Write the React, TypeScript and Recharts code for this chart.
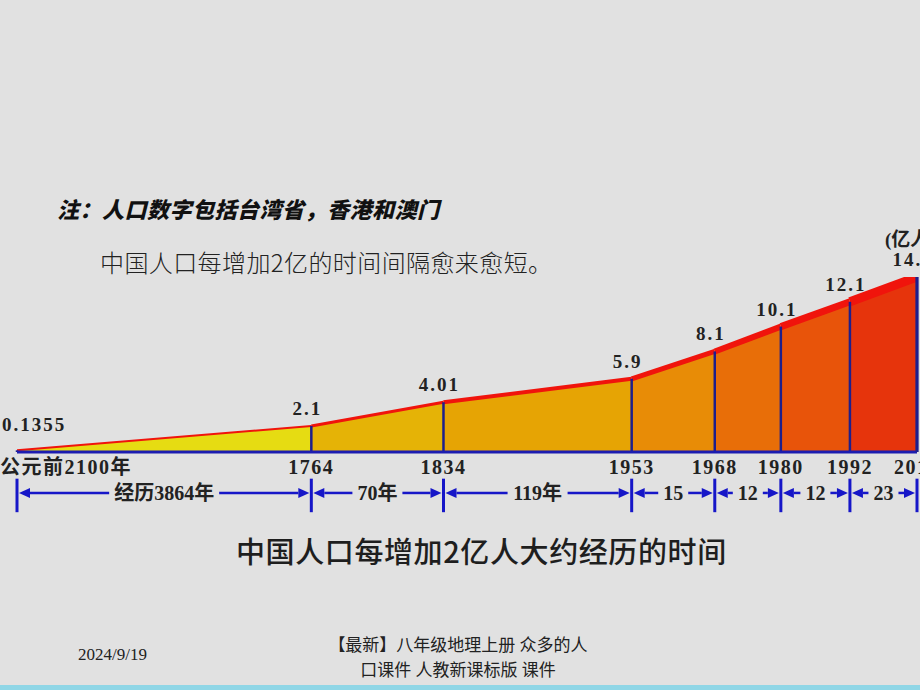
import React from 'react';
import { ComposedChart, Area, Line, XAxis, YAxis, ReferenceLine, LabelList } from 'recharts';

const years = ['公元前2100年', '1764', '1834', '1953', '1968', '1980', '1992', '2015'];
const population = [0.1355, 2.1, 4.01, 5.9, 8.1, 10.1, 12.1, 14.1];
const valueLabels = ['0.1355', '2.1', '4.01', '5.9', '8.1', '10.1', '12.1', '14.1'];
const axisSlots = [0, 294, 426, 614, 697, 763, 832, 899];
const intervalLabels = ['经历3864年', '70年', '119年', '15', '12', '12', '23'];
const segmentColors = ['#e6dc12', '#e5b306', '#e6a404', '#e88c06', '#e86e08', '#e8540a', '#e6340c'];
const segmentStrokeWidths = [2, 3, 4, 5, 6, 7, 9];
const yTicks = [2, 4, 6, 8, 10, 12, 14];

const RED = '#f0140c';
const NAVY = '#1e1e8c';
const BLUE = '#1616c8';
const SERIF = "'Liberation Serif', 'Noto Sans CJK SC', serif";
const SANS = "'Noto Sans CJK SC', 'Noto Sans', sans-serif";

const data = years.map((year, i) => {
  const row: Record<string, any> = { pos: axisSlots[i], year, pop: population[i], label: valueLabels[i] };
  for (let s = 0; s < intervalLabels.length; s++) {
    row[`s${s}`] = i === s || i === s + 1 ? population[i] : null;
  }
  return row;
});

const ARROW_ROW = -3.3;
const TICK_TOP = -2.15;
const TICK_BOTTOM = -4.85;

function estimateWidth(text: string, size: number) {
  let w = 0;
  for (const ch of text) w += /[\u4e00-\u9fff]/.test(ch) ? size : size * 0.5;
  return w;
}

const YearTick = (props: any) => {
  const { x, y, payload } = props;
  const idx = axisSlots.indexOf(payload.value);
  const first = idx === 0;
  return (
    <text
      x={first ? x - 17 : x}
      y={y}
      dy="0.72em"
      textAnchor={first ? 'start' : 'middle'}
      fontFamily={SERIF}
      fontWeight="bold"
      fontSize={20}
      letterSpacing={1.5}
      fill="#222"
    >
      {years[idx]}
    </text>
  );
};

const ValueLabel = (props: any) => {
  const { x, y, value, index } = props;
  const first = index === 0;
  return (
    <text
      x={first ? x - 15 : x - 4}
      y={first ? y - 19 : y - 11}
      textAnchor={first ? 'start' : 'middle'}
      fontFamily={SERIF}
      fontWeight="bold"
      fontSize={19}
      letterSpacing={2}
      fill="#222"
    >
      {value}
    </text>
  );
};

const UnitLabel = (props: any) => {
  const vb = props.viewBox || { x: 916, y: 277 };
  return (
    <text x={vb.x - 32} y={vb.y - 31} fontFamily={SERIF} fontWeight="bold" fontSize={19} fill="#222">
      (亿人)
    </text>
  );
};

const IntervalArrow = (props: any) => {
  const { x1, x2, y1, text } = props;
  const left = Math.min(x1, x2) + 2;
  const right = Math.max(x1, x2) - 2;
  const y = y1;
  const cx = (left + right) / 2;
  const tw = estimateWidth(text, 20);
  const head = 11;
  const half = 5;
  return (
    <g>
      <polygon points={`${left},${y} ${left + head},${y - half} ${left + head},${y + half}`} fill={BLUE} />
      <line x1={left + head} y1={y} x2={cx - tw / 2 - 5} y2={y} stroke={BLUE} strokeWidth={2.5} />
      <text x={cx} y={y} dy="0.36em" textAnchor="middle" fontFamily={SERIF} fontWeight="bold" fontSize={20} fill="#222">
        {text}
      </text>
      <line x1={cx + tw / 2 + 5} y1={y} x2={right - head} y2={y} stroke={BLUE} strokeWidth={2.5} />
      <polygon points={`${right},${y} ${right - head},${y - half} ${right - head},${y + half}`} fill={BLUE} />
    </g>
  );
};

export default function App() {
  return (
    <div
      style={{
        position: 'fixed',
        left: 0,
        top: 0,
        width: 920,
        height: 690,
        overflow: 'hidden',
        background: '#e1e1e1',
      }}
    >
      <div
        style={{
          position: 'absolute',
          left: 57,
          top: 196,
          fontFamily: SANS,
          fontSize: 22,
          lineHeight: '24px',
          fontWeight: 900,
          fontStyle: 'italic',
          letterSpacing: 0.5,
          color: '#111',
          whiteSpace: 'nowrap',
        }}
      >
        注：人口数字包括台湾省，香港和澳门
      </div>
      <div
        style={{
          position: 'absolute',
          left: 100,
          top: 249,
          fontFamily: SANS,
          fontSize: 24,
          lineHeight: '26px',
          fontWeight: 300,
          letterSpacing: 0.4,
          color: '#222',
          whiteSpace: 'nowrap',
        }}
      >
        中国人口每增加2亿的时间间隔愈来愈短。
      </div>

      <div style={{ position: 'absolute', left: 0, top: 0 }}>
        <ComposedChart width={976} height={530} data={data} margin={{ top: 277, right: 0, left: 17, bottom: 48 }}>
          <XAxis
            type="number"
            dataKey="pos"
            domain={[0, 899]}
            ticks={axisSlots}
            interval={0}
            allowDataOverflow
            axisLine={{ stroke: '#1c1cb0', strokeWidth: 3 }}
            tickLine={false}
            tickSize={6}
            tickMargin={2}
            height={30}
            tick={<YearTick />}
          />
          <YAxis
            orientation="right"
            domain={[0, 14.1]}
            ticks={yTicks}
            width={59}
            allowDataOverflow
            axisLine={{ stroke: NAVY, strokeWidth: 3 }}
            tickLine={{ stroke: NAVY, strokeWidth: 2 }}
            tickSize={5}
            tick={false}
            label={<UnitLabel />}
          />
          {intervalLabels.map((_, s) => (
            <Area
              key={`area-${s}`}
              type="linear"
              dataKey={`s${s}`}
              fill={segmentColors[s]}
              fillOpacity={1}
              stroke={RED}
              strokeWidth={segmentStrokeWidths[s]}
              connectNulls={false}
              dot={false}
              activeDot={false}
              isAnimationActive={false}
            />
          ))}
          {axisSlots.map((p, i) => (
            <ReferenceLine
              key={`up-${i}`}
              segment={[
                { x: p, y: 0 },
                { x: p, y: population[i] },
              ]}
              stroke={NAVY}
              strokeWidth={2.5}
              ifOverflow="visible"
            />
          ))}
          {axisSlots.map((p, i) => (
            <ReferenceLine
              key={`down-${i}`}
              segment={[
                { x: p, y: TICK_TOP },
                { x: p, y: TICK_BOTTOM },
              ]}
              stroke={BLUE}
              strokeWidth={3}
              ifOverflow="visible"
            />
          ))}
          {intervalLabels.map((txt, s) => (
            <ReferenceLine
              key={`int-${s}`}
              segment={[
                { x: axisSlots[s], y: ARROW_ROW },
                { x: axisSlots[s + 1], y: ARROW_ROW },
              ]}
              ifOverflow="visible"
              shape={(p: any) => <IntervalArrow {...p} text={txt} />}
            />
          ))}
          <Line dataKey="pop" stroke="none" dot={false} activeDot={false} isAnimationActive={false}>
            <LabelList dataKey="label" content={<ValueLabel />} />
          </Line>
        </ComposedChart>
      </div>

      <div
        style={{
          position: 'absolute',
          left: 236,
          top: 533,
          fontFamily: SANS,
          fontSize: 29,
          lineHeight: '34px',
          fontWeight: 500,
          letterSpacing: 0.6,
          color: '#1e1e1e',
          whiteSpace: 'nowrap',
        }}
      >
        中国人口每增加2亿人大约经历的时间
      </div>

      <div
        style={{
          position: 'absolute',
          left: 78,
          top: 644,
          fontFamily: SERIF,
          fontSize: 17,
          lineHeight: '22px',
          color: '#222',
          whiteSpace: 'nowrap',
        }}
      >
        2024/9/19
      </div>
      <div
        style={{
          position: 'absolute',
          left: 298,
          top: 633,
          width: 320,
          textAlign: 'center',
          fontFamily: SERIF,
          fontSize: 17,
          lineHeight: '25px',
          color: '#222',
        }}
      >
        <span style={{ display: 'block' }}>【最新】八年级地理上册 众多的人</span>
        <span style={{ display: 'block' }}>口课件 人教新课标版 课件</span>
      </div>
      <div style={{ position: 'absolute', left: 0, top: 685, width: 920, height: 5, background: '#8fd6e6' }} />
    </div>
  );
}
